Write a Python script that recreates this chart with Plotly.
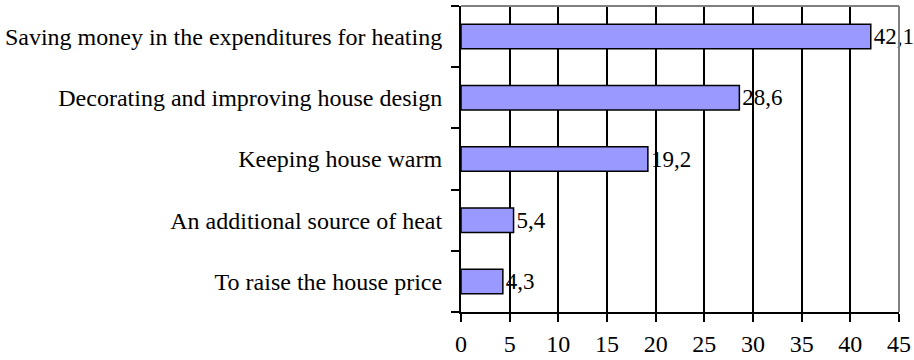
import plotly.graph_objects as go

categories = ["Saving money in the expenditures for heating",
              "Decorating and improving house design",
              "Keeping house warm",
              "An additional source of heat",
              "To raise the house price"]
values = [42.1, 28.6, 19.2, 5.4, 4.3]
labels = ["42,1", "28,6", "19,2", "5,4", "4,3"]
xticks = [0, 5, 10, 15, 20, 25, 30, 35, 40, 45]

FONT = "Liberation Serif, Times New Roman, serif"

fig = go.Figure(go.Bar(
    y=categories, x=values, orientation="h",
    text=labels, textposition="outside", cliponaxis=False,
    textfont=dict(family=FONT, size=23, color="black"),
    marker=dict(color="#9999FF", line=dict(color="black", width=1.5)),
))

fig.update_layout(
    width=914, height=360,
    margin=dict(l=461, r=15, t=6, b=48),
    plot_bgcolor="white", paper_bgcolor="white",
    bargap=0.6, showlegend=False,
    uniformtext=dict(minsize=23, mode="show"),
    font=dict(family=FONT, size=24, color="black"),
    xaxis=dict(range=[0, 45], tickvals=xticks, ticks="outside", ticklen=8,
               tickwidth=2, tickcolor="black", showgrid=True, gridcolor="black",
               gridwidth=2, showline=True, linecolor="black", linewidth=2,
               zeroline=False, fixedrange=True, ticklabelstandoff=1,
               automargin=False),
    yaxis=dict(categoryorder="array", categoryarray=categories[::-1],
               ticks="outside", tickson="boundaries", ticklen=8, tickwidth=2,
               tickcolor="black", showline=True, linecolor="black", linewidth=2,
               showgrid=False, ticklabelstandoff=12, automargin=False),
    shapes=[
        dict(type="line", xref="paper", yref="paper", x0=1, x1=1, y0=0, y1=1,
             line=dict(color="#808080", width=2)),
        dict(type="line", xref="paper", yref="paper", x0=0, x1=1, y0=1, y1=1,
             line=dict(color="#808080", width=2)),
    ],
)

fig.write_html("out.html")
